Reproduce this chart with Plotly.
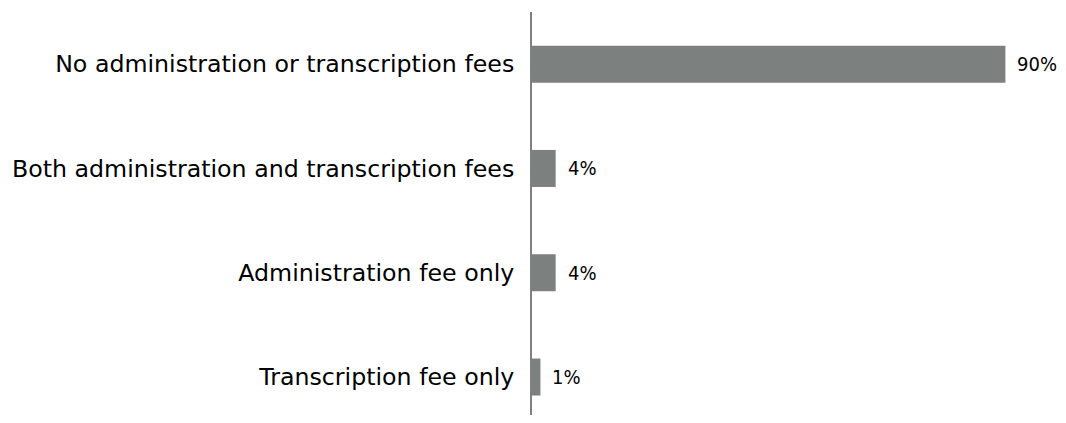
import plotly.graph_objects as go

categories = [
    "No administration or transcription fees",
    "Both administration and transcription fees",
    "Administration fee only",
    "Transcription fee only",
]
values = [90, 4.5, 4.5, 1.6]
value_labels = ["90%", "4%", "4%", "1%"]

bar_color = "#7c8180"

fig = go.Figure(
    go.Bar(
        x=values,
        y=categories,
        orientation="h",
        marker=dict(color=bar_color, line=dict(width=0)),
        width=0.355,
        hoverinfo="skip",
    )
)

for v, lab, cat in zip(values, value_labels, categories):
    fig.add_annotation(
        x=v, y=cat, text=lab, showarrow=False,
        xanchor="left", yanchor="middle", xshift=10,
        font=dict(family="DejaVu Sans Condensed, Liberation Sans", size=20, color="#000000"),
    )

fig.update_layout(
    width=1050,
    height=407,
    margin=dict(l=524, r=0, t=4, b=0, autoexpand=False),
    paper_bgcolor="white",
    plot_bgcolor="white",
    showlegend=False,
    font=dict(family="DejaVu Sans", size=23.7, color="#000000"),
)
fig.update_xaxes(
    range=[0, 100],
    showgrid=False,
    zeroline=False,
    showticklabels=False,
    showline=False,
    automargin=False,
)
fig.update_yaxes(
    type="category",
    categoryorder="array",
    categoryarray=categories,
    range=[3.364, -0.5],
    showgrid=False,
    zeroline=False,
    showline=True,
    linecolor="#7f8180",
    linewidth=2,
    ticks="",
    ticklabelstandoff=11,
    automargin=False,
    tickfont=dict(family="DejaVu Sans", size=23.7, color="#000000"),
)

fig.write_html("out.html")
